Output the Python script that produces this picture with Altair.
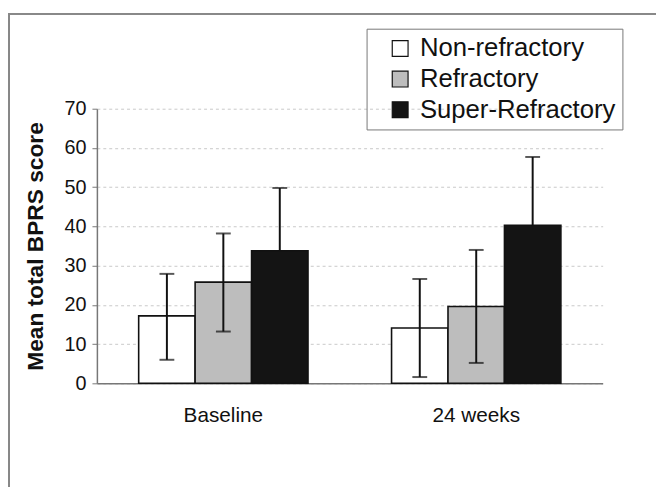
import altair as alt
import pandas as pd

timepoints = ["Baseline", "24 weeks"]
groups = ["Non-refractory", "Refractory", "Super-Refractory"]
means = {
    "Baseline": [17.2, 25.8, 33.8],
    "24 weeks": [14.1, 19.6, 40.3],
}
err_low = {
    "Baseline": [6.0, 13.2, None],
    "24 weeks": [1.6, 5.2, None],
}
err_high = {
    "Baseline": [27.9, 38.2, 49.8],
    "24 weeks": [26.6, 34.0, 57.7],
}
y_ticks = [0, 10, 20, 30, 40, 50, 60, 70]
colors = ["#ffffff", "#bdbdbd", "#141414"]

rows = []
for t in timepoints:
    for i, g in enumerate(groups):
        lo = err_low[t][i]
        rows.append({
            "time": t, "group": g, "mean": means[t][i],
            "lo": lo if lo is not None else means[t][i],
            "hi": err_high[t][i],
        })
df = pd.DataFrame(rows)

FONT = "Liberation Sans"

x = alt.X("time:N", sort=timepoints, title=None,
          scale=alt.Scale(paddingInner=0.0, paddingOuter=0.0),
          axis=alt.Axis(labelAngle=0, labelFontSize=21, labelPadding=22, ticks=False,
                        labelColor="#111", domainColor="#777", domainWidth=1.5))
xo = alt.XOffset("group:N", sort=groups,
                 scale=alt.Scale(paddingInner=0.0, paddingOuter=0.74))

yscale = alt.Scale(domain=[0, 70], nice=False)
yaxis = alt.Axis(values=y_ticks, tickCount=8, labelFontSize=20,
                 labelOverlap=False,
                 labelColor="#111", labelPadding=6, tickSize=5, tickColor="#777",
                 domainColor="#777", domainWidth=1.5,
                 titleFontSize=23, titleFontWeight="bold", titleColor="#111",
                 titlePadding=17, grid=True, gridColor="#c8c8c8",
                 gridDash=[3, 3], gridWidth=1)

bars = alt.Chart(df).mark_bar(stroke="#111", strokeWidth=1.6).encode(
    x=x,
    xOffset=xo,
    y=alt.Y("mean:Q", title="Mean total BPRS score", scale=yscale, axis=yaxis),
    fill=alt.Fill("group:N", sort=groups,
                  scale=alt.Scale(domain=groups, range=colors),
                  legend=alt.Legend(title=None, orient="none", legendX=273, legendY=-81,
                                    symbolType="square", symbolSize=256,
                                    symbolStrokeColor="#111", symbolStrokeWidth=1.2,
                                    labelFontSize=26, labelColor="#111", labelLimit=400,
                                    labelOffset=7, rowPadding=5, padding=7,
                                    symbolOffset=14,
                                    strokeColor="#777")),
)

rules = alt.Chart(df).mark_rule(color="#111", strokeWidth=2).encode(
    x=x, xOffset=xo,
    y=alt.Y("lo:Q", title="Mean total BPRS score", scale=yscale, axis=yaxis),
    y2="hi:Q",
)
caps = alt.Chart(df).mark_tick(color="#111", thickness=2, size=15, orient="horizontal").encode(
    x=x, xOffset=xo,
    y=alt.Y("hi:Q", title="Mean total BPRS score", scale=yscale, axis=yaxis),
)
lowcaps = alt.Chart(df[df["lo"] < df["mean"]]).mark_tick(
    color="#111", thickness=2, size=15, orient="horizontal").encode(
    x=x, xOffset=xo,
    y=alt.Y("lo:Q", title="Mean total BPRS score", scale=yscale, axis=yaxis),
)

frame_top = alt.Chart(df).mark_rule(color="#888", strokeWidth=1.5).encode(
    x=alt.value(-90), x2=alt.value(700), y=alt.value(-96))
frame_left = alt.Chart(df).mark_rule(color="#888", strokeWidth=1.5).encode(
    x=alt.value(-89), y=alt.value(-97), y2=alt.value(400))

chart = alt.layer(bars, rules, caps, lowcaps, frame_top, frame_left).properties(
    width=512, height=278,
    autosize=alt.AutoSizeParams(type="none"),
    padding={"left": 90, "top": 99, "right": 54, "bottom": 102},
).configure(font=FONT).configure_view(stroke=None)

chart.save("out.html", embed_options={"renderer": "svg", "actions": False})
